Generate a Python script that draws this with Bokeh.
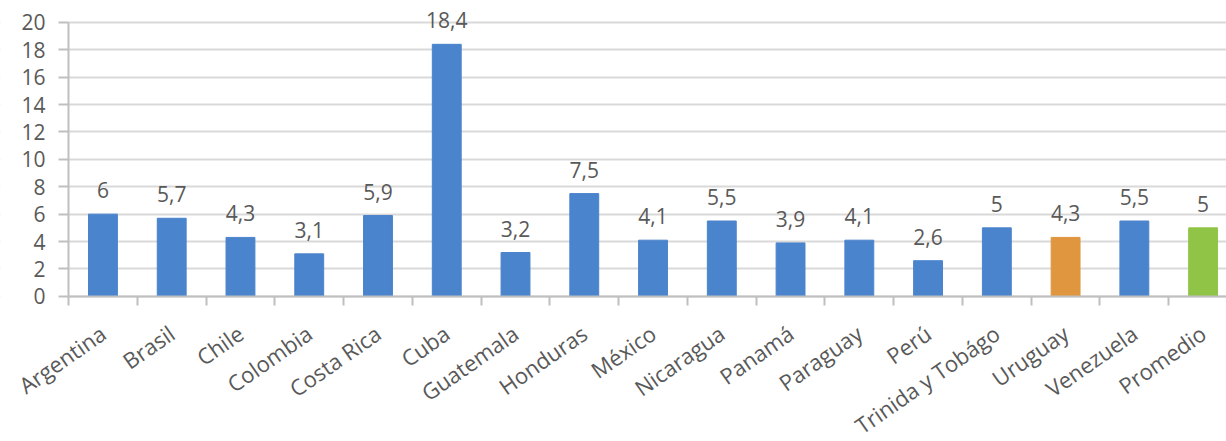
import math
from bokeh.plotting import figure
from bokeh.models import ColumnDataSource, Range1d, FixedTicker, LabelSet, BoxAnnotation
from bokeh.core.properties import value
from bokeh.embed import file_html
from bokeh.resources import INLINE

countries = ["Argentina", "Brasil", "Chile", "Colombia", "Costa Rica", "Cuba", "Guatemala",
             "Honduras", "México", "Nicaragua", "Panamá", "Paraguay", "Perú",
             "Trinida y Tobágo", "Uruguay", "Venezuela", "Promedio"]
values = [6, 5.7, 4.3, 3.1, 5.9, 18.4, 3.2, 7.5, 4.1, 5.5, 3.9, 4.1, 2.6, 5, 4.3, 5.5, 5]
y_ticks = [0, 2, 4, 6, 8, 10, 12, 14, 16, 18, 20]

BLUE = "#4A84CC"
ORANGE = "#E0963F"
GREEN = "#90C446"
colors = [BLUE] * len(countries)
colors[countries.index("Uruguay")] = ORANGE
colors[countries.index("Promedio")] = GREEN

idx = list(range(len(countries)))
labels = [("%g" % v).replace(".", ",") for v in values]
src = ColumnDataSource(dict(x=idx, top=values, color=colors, label=labels))

FONT = "Open Sans"
GREY = "#595959"

p = figure(width=1226, height=441, output_backend="svg", toolbar_location=None,
           x_range=Range1d(-1.49, 16.34), y_range=Range1d(-10.6, 21.6),
           min_border_left=0, min_border_right=0, min_border_top=0, min_border_bottom=0)
p.outline_line_color = None
p.background_fill_color = "white"
p.border_fill_color = "white"

# keep the horizontal grid lines from running under the y tick labels
p.add_layout(BoxAnnotation(right=-0.5, fill_color="white", fill_alpha=1.0,
                           line_color=None, level="underlay"))

p.vbar(x="x", top="top", width=0.42, bottom=0, color="color", source=src)

p.add_layout(LabelSet(x="x", y="top", text="label", source=src, text_align="center",
                      text_baseline="bottom", y_offset=16, text_font=value(FONT),
                      text_font_size="21px", text_color=GREY))

# y axis, pinned at the left edge of the first category
p.yaxis.fixed_location = -0.5
p.yaxis.ticker = FixedTicker(ticks=y_ticks)
p.yaxis.bounds = (0, 20)
p.yaxis.axis_line_color = "#BFBFBF"
p.yaxis.axis_line_width = 2
p.yaxis.major_tick_line_color = "#BFBFBF"
p.yaxis.major_tick_line_width = 2
p.yaxis.major_tick_out = 10
p.yaxis.major_tick_in = 0
p.yaxis.minor_tick_line_color = None
p.yaxis.major_label_text_font = FONT
p.yaxis.major_label_text_font_size = "21px"
p.yaxis.major_label_text_color = GREY
p.yaxis.major_label_standoff = 13

# x axis, pinned at y = 0
p.xaxis.fixed_location = 0
p.xaxis.bounds = (-0.5, 16.5)
p.xaxis.ticker = FixedTicker(ticks=idx, minor_ticks=[i - 0.5 for i in range(len(countries) + 1)])
p.xaxis.major_label_overrides = {i: c for i, c in enumerate(countries)}
p.xaxis.major_label_orientation = 0.61
p.xaxis.axis_line_color = "#BFBFBF"
p.xaxis.axis_line_width = 2
p.xaxis.major_tick_line_color = None
p.xaxis.major_tick_out = 0
p.xaxis.major_tick_in = 0
p.xaxis.minor_tick_line_color = "#BFBFBF"
p.xaxis.minor_tick_line_width = 2
p.xaxis.minor_tick_out = 9
p.xaxis.minor_tick_in = 0
p.xaxis.major_label_text_font = FONT
p.xaxis.major_label_text_font_size = "22px"
p.xaxis.major_label_text_color = GREY
p.xaxis.major_label_standoff = 25

p.xgrid.grid_line_color = None
p.ygrid.grid_line_color = "#D9D9D9"
p.ygrid.grid_line_width = 2

open("out.html", "w").write(file_html(p, INLINE))
